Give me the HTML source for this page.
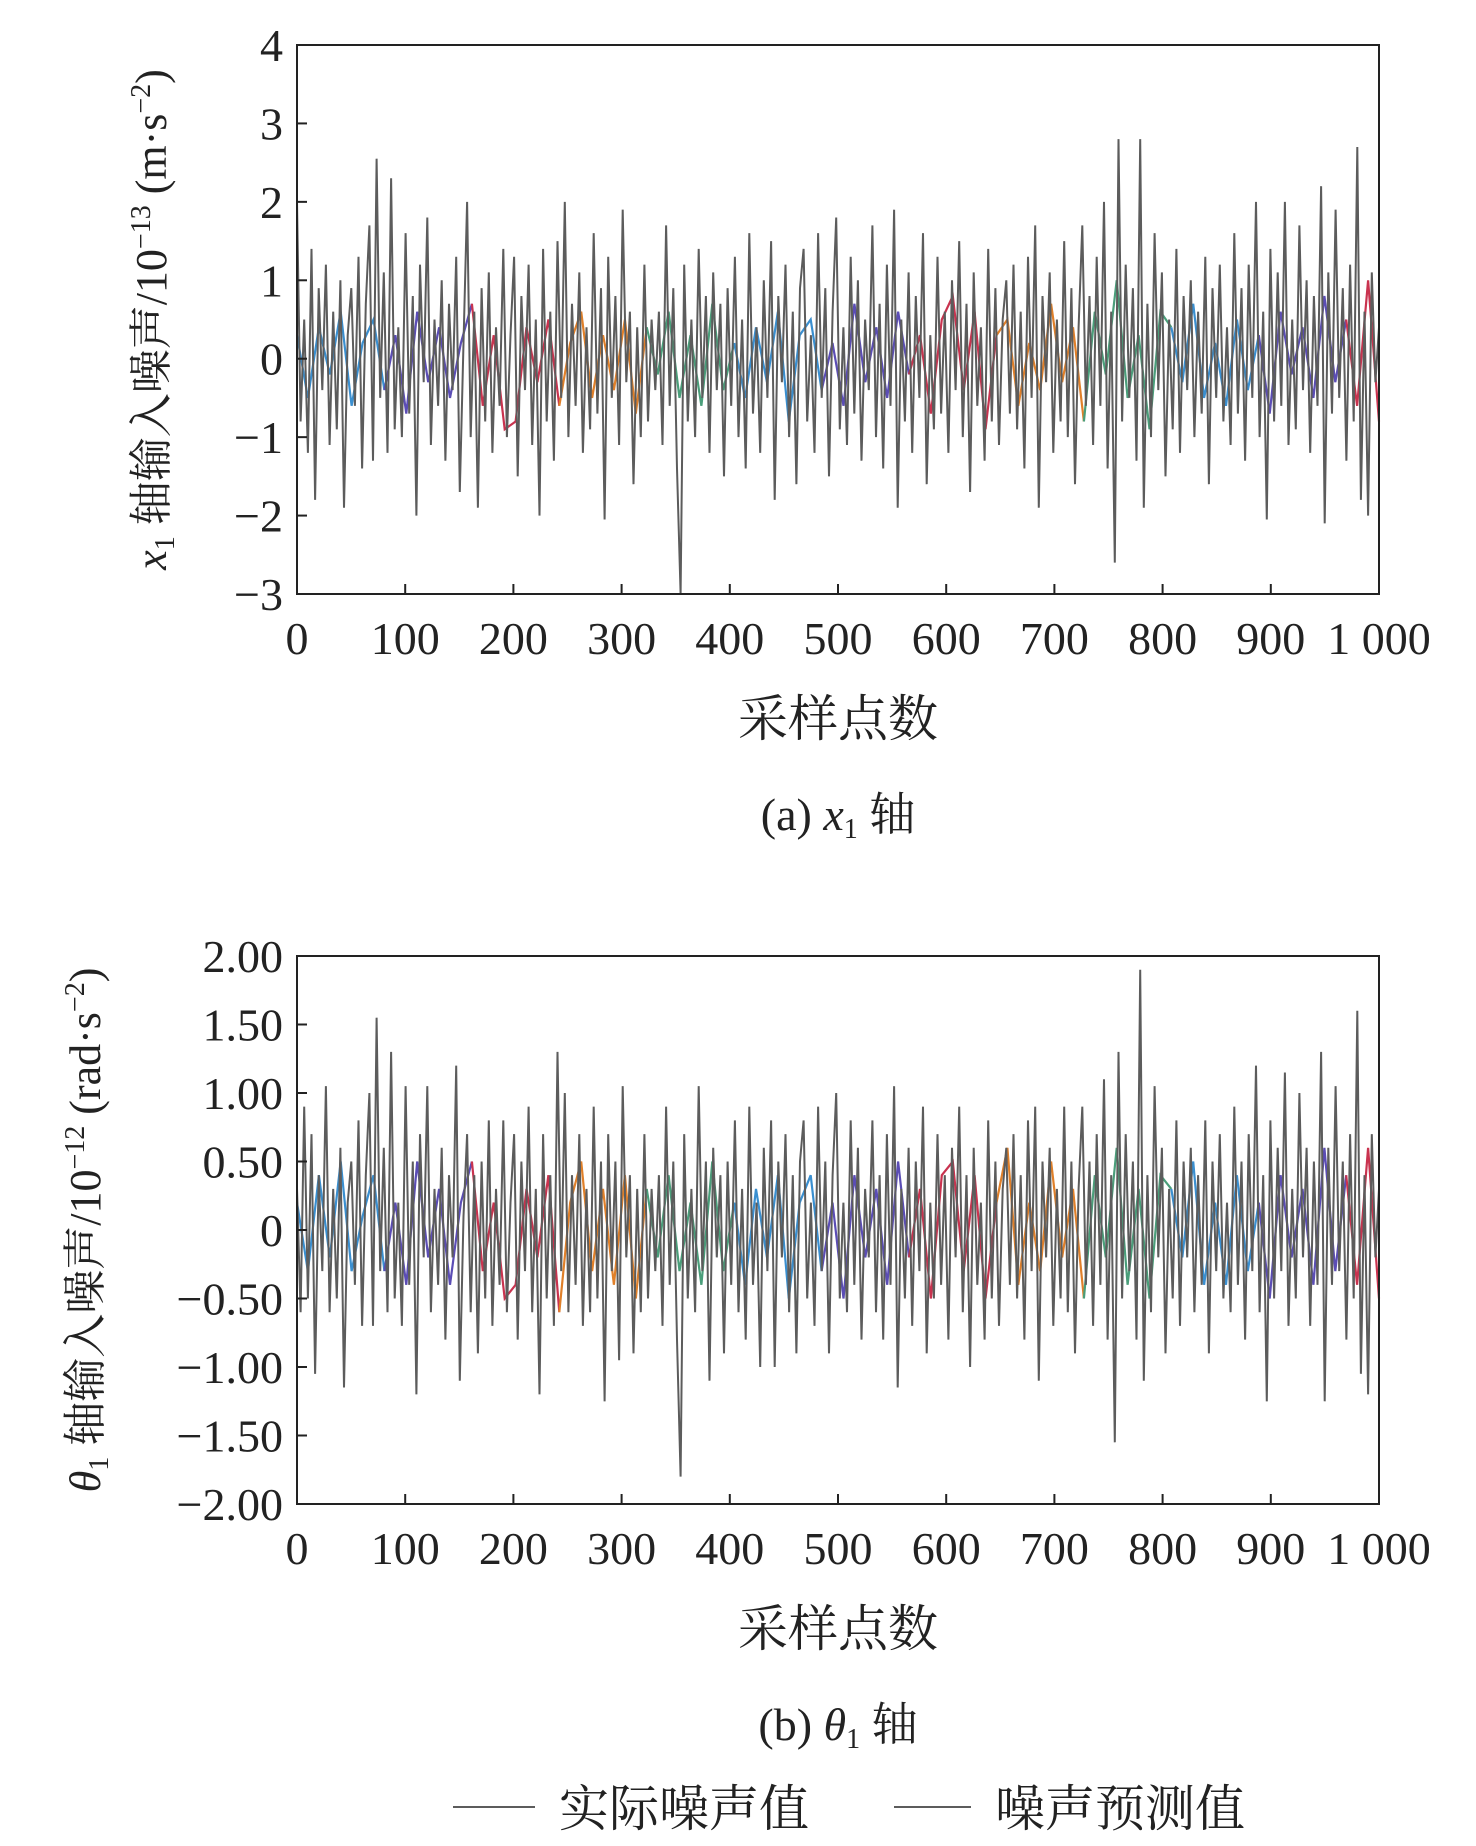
<!DOCTYPE html>
<html><head><meta charset="utf-8"><style>
html,body{margin:0;padding:0;background:#fff;}
svg{display:block;}
text{font-family:"Liberation Serif","Noto Serif CJK SC",serif;fill:#222;}
</style></head><body>
<svg id="fig" width="1476" height="1846" viewBox="0 0 1476 1846" xmlns="http://www.w3.org/2000/svg"></svg>
<script>
// ---- chart data ----
const xTicks = [0,100,200,300,400,500,600,700,800,900,1000];
const xTickLabels = ["0","100","200","300","400","500","600","700","800","900","1 000"];
const yTicksA = [-3,-2,-1,0,1,2,3,4];
const yTickLabelsA = ["\u22123","\u22122","\u22121","0","1","2","3","4"];
const yTicksB = [-2,-1.5,-1,-0.5,0,0.5,1,1.5,2];
const yTickLabelsB = ["\u22122.00","\u22121.50","\u22121.00","\u22120.50","0","0.50","1.00","1.50","2.00"];
const actualA = [2.0,-0.8,0.5,-1.2,1.4,-1.8,0.9,-0.4,1.2,-1.1,0.6,-0.9,1.0,-1.9,0.3,0.9,-0.6,1.3,-1.4,0.7,
1.7,-1.3,2.55,-0.5,1.1,-1.2,2.3,-0.9,0.4,-1.0,1.6,-0.7,0.8,-2.0,1.2,-0.3,1.8,-1.1,0.5,-0.6,
1.0,-1.3,0.7,-0.4,1.3,-1.7,0.2,2.0,-1.0,0.6,-1.9,0.9,-0.8,1.1,-1.2,0.4,-0.6,1.4,-1.0,0.3,
1.3,-1.5,0.8,-0.4,1.2,-1.1,0.5,-2.0,1.4,-0.8,0.6,-1.3,1.5,-0.5,2.0,-1.0,0.7,-0.6,1.1,-1.2,
0.4,-0.9,1.6,-0.7,0.9,-2.05,1.3,-0.5,0.8,-1.1,1.9,-0.3,0.6,-1.6,0.4,-1.0,1.2,-0.8,0.5,-0.4,
0.6,-1.1,1.7,-0.6,0.9,-1.4,-3.0,1.2,-0.8,0.5,-1.0,1.4,-0.5,0.8,-1.2,1.1,-0.4,0.7,-1.5,0.9,
-0.6,1.3,-1.0,0.5,-1.4,1.6,-0.7,0.4,-1.2,1.0,-0.5,1.5,-1.8,0.8,-0.3,1.2,-1.0,0.6,-1.6,0.9,
1.4,-0.8,0.3,-1.2,1.6,-0.5,0.9,-1.5,0.6,1.8,-0.9,0.4,-1.1,1.3,-0.7,1.0,-1.3,0.5,-0.4,1.7,
-1.0,0.7,-1.4,1.2,-0.6,1.9,-1.9,0.5,-0.8,1.1,-1.2,0.8,-0.5,1.6,-1.6,0.3,-0.9,1.3,-0.7,0.6,
-1.2,1.0,-0.4,1.5,-1.0,0.7,-1.7,1.1,-0.6,0.4,-1.3,1.4,-0.8,0.9,-1.1,0.5,1.0,-0.7,1.2,-0.9,
0.6,-1.4,1.3,-0.5,1.7,-1.9,0.8,-0.3,1.1,-1.2,0.5,-0.8,1.5,-1.0,0.9,-1.6,0.4,1.7,-0.6,0.8,
-1.1,1.3,-0.6,2.0,-1.4,0.6,-2.6,2.8,-0.8,1.2,-0.5,0.9,-1.3,2.8,-1.9,0.7,-1.0,1.6,-0.4,1.1,
-1.5,0.5,-0.9,1.4,-1.2,0.8,-0.4,1.0,-1.0,0.6,-0.7,1.3,-1.6,0.9,-0.5,1.2,-0.8,0.4,-1.1,1.6,
-0.7,0.9,-1.3,1.2,-0.5,2.0,-1.0,0.6,-2.05,1.4,-0.8,1.1,-0.6,2.0,-1.1,0.5,-0.9,1.7,-0.4,1.0,
-1.2,0.8,-0.6,2.2,-2.1,1.1,-0.7,1.9,-0.5,0.9,-1.3,1.2,-0.8,2.7,-1.8,0.6,-2.0,1.1,-0.3,0.4];
const predA = [0.3,-0.5,0.4,-0.2,0.6,-0.6,0.2,0.5,-0.4,0.3,-0.7,0.6,-0.3,0.4,-0.5,0.2,0.7,-0.6,0.3,-0.9,
-0.8,0.4,-0.3,0.5,-0.6,0.2,0.6,-0.5,0.3,-0.4,0.5,-0.7,0.4,-0.2,0.6,-0.5,0.3,-0.6,0.7,-0.4,
0.2,-0.5,0.4,-0.3,0.6,-0.8,0.3,0.5,-0.4,0.2,-0.6,0.7,-0.3,0.4,-0.5,0.6,-0.2,0.3,-0.7,0.5,
0.8,-0.4,0.6,-0.9,0.3,0.5,-0.6,0.2,-0.4,0.7,-0.3,0.4,-0.8,0.6,-0.2,1.0,-0.5,0.3,-0.9,0.6,
0.4,-0.3,0.7,-0.5,0.2,-0.6,0.5,-0.4,0.3,-0.7,0.6,-0.2,0.4,-0.5,0.8,-0.3,0.5,-0.6,1.0,-0.8];
const actualB = [0.3,-0.6,0.9,-0.5,0.7,-1.05,0.4,-0.3,1.05,-0.6,0.3,-0.5,0.6,-1.15,0.2,0.5,-0.4,0.8,-0.7,0.4,
1.0,-0.7,1.55,-0.3,0.6,-0.6,1.3,-0.5,0.2,-0.7,1.05,-0.4,0.5,-1.2,0.7,-0.2,1.05,-0.6,0.3,-0.4,
0.6,-0.8,0.4,-0.2,1.2,-1.1,0.1,0.7,-0.6,0.4,-0.9,0.5,-0.5,0.8,-0.7,0.3,-0.4,0.8,-0.6,0.2,
0.7,-0.8,0.5,-0.3,0.9,-0.6,0.3,-1.2,0.7,-0.5,0.4,-0.7,1.3,-0.3,1.0,-0.6,0.4,-0.4,0.7,-0.7,
0.3,-0.6,0.9,-0.5,0.5,-1.25,0.7,-0.3,0.5,-0.95,1.05,-0.2,0.4,-0.9,0.3,-0.6,0.7,-0.5,0.3,-0.3,
0.4,-0.7,0.9,-0.4,0.5,-0.8,-1.8,0.7,-0.5,0.3,-0.6,1.05,-0.3,0.5,-1.1,0.6,-0.2,0.4,-0.9,0.5,
-0.4,0.8,-0.6,0.3,-0.8,0.9,-0.4,0.2,-1.0,0.6,-0.3,0.8,-1.0,0.5,-0.2,0.7,-0.6,0.4,-0.9,0.5,
0.8,-0.5,0.2,-0.7,0.9,-0.3,0.5,-0.9,0.4,1.0,-0.5,0.2,-0.6,0.8,-0.4,0.6,-0.8,0.3,-0.2,0.8,
-0.6,0.4,-0.8,0.7,-0.4,1.05,-1.15,0.3,-0.5,0.6,-0.7,0.5,-0.3,0.9,-0.9,0.2,-0.5,0.7,-0.4,0.4,
-0.8,0.6,-0.2,0.9,-0.6,0.4,-1.0,0.6,-0.4,0.2,-0.8,0.8,-0.5,0.5,-0.7,0.3,0.6,-0.4,0.7,-0.5,
0.4,-0.8,0.8,-0.3,0.9,-1.1,0.5,-0.2,0.6,-0.7,0.3,-0.5,0.9,-0.6,0.5,-0.9,0.3,0.9,-0.4,0.5,
-0.7,0.7,-0.4,1.1,-0.8,0.4,-1.55,1.3,-0.5,0.7,-0.3,0.5,-0.8,1.9,-1.1,0.4,-0.6,1.05,-0.2,0.6,
-0.9,0.3,-0.5,0.8,-0.7,0.5,-0.2,0.6,-0.6,0.4,-0.4,0.8,-0.9,0.5,-0.3,0.7,-0.5,0.2,-0.6,0.9,
-0.4,0.5,-0.8,0.7,-0.3,1.2,-0.6,0.4,-1.25,0.8,-0.5,0.6,-0.3,1.15,-0.7,0.3,-0.5,1.0,-0.2,0.6,
-0.7,0.5,-0.4,1.3,-1.25,0.6,-0.4,1.05,-0.3,0.5,-0.8,0.7,-0.5,1.6,-1.05,0.4,-1.2,0.7,-0.2,0.3];
const predB = [0.2,-0.3,0.4,-0.2,0.5,-0.3,0.1,0.4,-0.3,0.2,-0.4,0.5,-0.2,0.3,-0.4,0.2,0.5,-0.3,0.2,-0.5,
-0.4,0.3,-0.2,0.4,-0.6,0.2,0.5,-0.3,0.3,-0.4,0.4,-0.5,0.3,-0.2,0.4,-0.3,0.2,-0.4,0.5,-0.3,
0.2,-0.4,0.3,-0.2,0.4,-0.5,0.2,0.4,-0.3,0.2,-0.5,0.4,-0.2,0.3,-0.4,0.5,-0.2,0.3,-0.5,0.4,
0.5,-0.3,0.4,-0.5,0.2,0.6,-0.4,0.2,-0.3,0.5,-0.2,0.3,-0.5,0.4,-0.2,0.6,-0.4,0.3,-0.5,0.4,
0.3,-0.2,0.5,-0.4,0.2,-0.4,0.4,-0.3,0.2,-0.5,0.4,-0.2,0.3,-0.4,0.6,-0.3,0.4,-0.4,0.6,-0.5];
const predColors = ["#3a8fd0","#5b4db5","#c9334f","#e0802a","#4a9e7a"];

const svg = document.getElementById('fig');
const NS = 'http://www.w3.org/2000/svg';
function mk(tag, attrs, parent){const e=document.createElementNS(NS,tag);for(const k in attrs)e.setAttribute(k,attrs[k]);(parent||svg).appendChild(e);return e;}

const L=297, R=1379;
function drawChart(id, top, bottom, yMin, yMax, yTicks, yLabels, actual, pred, titleParts, titleX, caption){
  const g = mk('g',{});
  
  
  const xs = v => L + (v/1000)*(R-L);
  const ys = v => bottom - (v-yMin)/(yMax-yMin)*(bottom-top);
  const pg = mk('g',{},g);
  
  
  const segLen = 8;
  for(let s=0; s<pred.length-1; s+=segLen){
    let d='';
    for(let i=s;i<=Math.min(s+segLen,pred.length-1);i++){
      d += (i===s?'M':'L') + xs(i*1000/(pred.length-1)).toFixed(1)+','+ys(pred[i]).toFixed(1);
    }
    const p = mk('path',{d:d,fill:'none',stroke:predColors[(s/segLen)%predColors.length],'stroke-width':2.2},pg);
    
    
  }
  let d='';
  actual.forEach((v,i)=>{ d += (i?'L':'M') + xs(i*1000/(actual.length-1)).toFixed(1)+','+ys(v).toFixed(1); });
  const ap = mk('path',{d:d,fill:'none',stroke:'#5c5c5c','stroke-width':2,'stroke-linejoin':'bevel'},g);
  
  
  const fr = mk('rect',{x:L,y:top,width:R-L,height:bottom-top,fill:'none',stroke:'#222','stroke-width':2},g);
  
  
  xTicks.forEach((t,i)=>{
    const x=xs(t);
    const tk = mk('line',{x1:x,x2:x,y1:bottom,y2:bottom-10,stroke:'#222','stroke-width':2},g);
    
    
    const tx = mk('text',{x:x,y:bottom+60,'text-anchor':'middle','font-size':46},g);
    tx.textContent = xTickLabels[i];
    
    
  });
  yTicks.forEach((t,i)=>{
    const y=ys(t);
    const tk = mk('line',{x1:L,x2:L+10,y1:y,y2:y,stroke:'#222','stroke-width':2},g);
    
    
    const tx = mk('text',{x:L-14,y:y+16,'text-anchor':'end','font-size':46},g);
    tx.textContent = yLabels[i];
    
    
  });
  const cy=(top+bottom)/2;
  const yt = mk('text',{x:0,y:0,'text-anchor':'middle','font-size':44,transform:`translate(${titleX},${cy}) rotate(-90)`},g);
  yt.innerHTML = titleParts;
  
  
  const xt = mk('text',{x:838,y:bottom+142,'text-anchor':'middle','font-size':50},g);
  xt.textContent='采样点数';
  
  
  const cp = mk('text',{x:838,y:bottom+236,'text-anchor':'middle','font-size':46},g);
  cp.innerHTML = caption;
  
  
}
drawChart('chart-x1-axis',45,594,-3,4,yTicksA,yTickLabelsA,actualA,predA,
 '<tspan font-style="italic">x</tspan><tspan font-size="28" dy="8">1</tspan><tspan dy="-8"> 轴输入噪声/10</tspan><tspan font-size="28" dy="-16">−13</tspan><tspan dy="16"> (m·s</tspan><tspan font-size="28" dy="-16">−2</tspan><tspan dy="16">)</tspan>',
 166,'(a) <tspan font-style="italic">x</tspan><tspan font-size="28" dy="8">1</tspan><tspan dy="-8"> 轴</tspan>');
drawChart('chart-theta1-axis',956,1504,-2,2,yTicksB,yTickLabelsB,actualB,predB,
 '<tspan font-style="italic">θ</tspan><tspan font-size="28" dy="8">1</tspan><tspan dy="-8"> 轴输入噪声/10</tspan><tspan font-size="28" dy="-16">−12</tspan><tspan dy="16"> (rad·s</tspan><tspan font-size="28" dy="-16">−2</tspan><tspan dy="16">)</tspan>',
 100,'(b) <tspan font-style="italic">θ</tspan><tspan font-size="28" dy="8">1</tspan><tspan dy="-8"> 轴</tspan>');
const lg = mk('g',{});


const l1 = mk('line',{x1:453,x2:535,y1:1807,y2:1807,stroke:'#5c5c5c','stroke-width':2},lg);


const t1 = mk('text',{x:559,y:1826,'font-size':50},lg);
t1.textContent='实际噪声值';


const l2 = mk('line',{x1:894,x2:971,y1:1807,y2:1807,stroke:'#5c5c5c','stroke-width':2},lg);


const t2 = mk('text',{x:995,y:1826,'font-size':50},lg);
t2.textContent='噪声预测值';


</script>
</body></html>
